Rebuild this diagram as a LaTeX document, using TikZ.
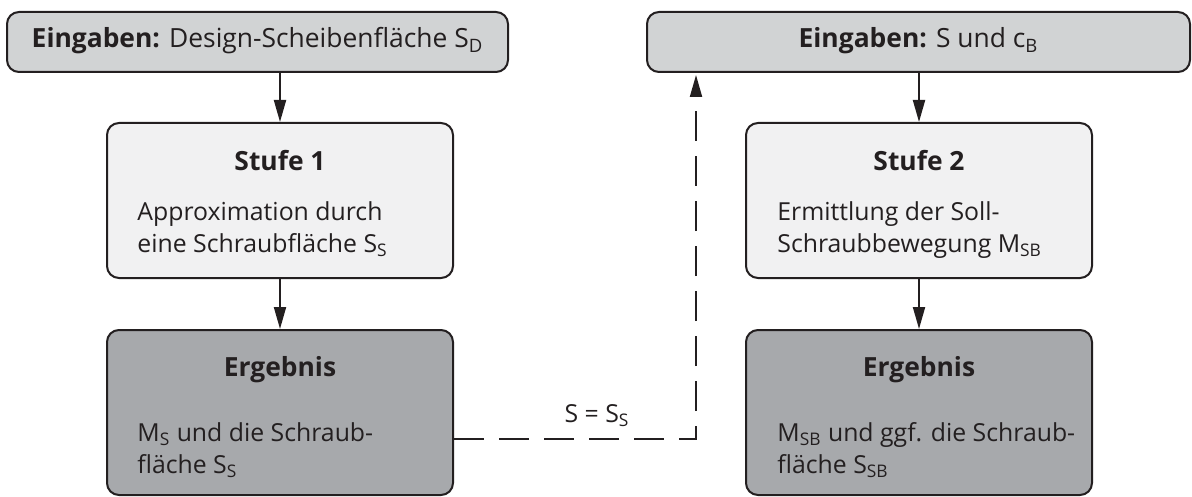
\documentclass[tikz,border=0pt]{standalone}
\usepackage{fontspec}
\setmainfont{Open Sans}
\usetikzlibrary{arrows.meta}

\definecolor{eingabe}{RGB}{209,211,212}
\definecolor{stufe}{RGB}{241,241,242}
\definecolor{ergebnis}{RGB}{167,169,172}
\definecolor{rand}{RGB}{35,31,32}
\newcommand{\idx}[1]{\textsubscript{#1}}

\begin{document}
\begin{tikzpicture}[x=0.5pt,y=-0.5pt]
\useasboundingbox (0,0) rectangle (1192,497);

\tikzstyle{box}=[draw=rand,line width=1pt,rounded corners=6pt,inner sep=0pt]
\tikzstyle{txt}=[inner sep=0pt,text=rand,font=\fontsize{12.4}{16}\selectfont]
\tikzstyle{kopf}=[txt,font=\fontsize{13.2}{16}\selectfont]
\tikzstyle{pfeil}=[draw=rand,line width=1pt,-{Triangle[length=11pt,width=6pt]}]

% Eingaben oben
\node[box,fill=eingabe,minimum width=250.5pt,minimum height=30pt] (ein1) at (257.5,42) {};
\node[box,fill=eingabe,minimum width=271.5pt,minimum height=30pt] (ein2) at (918.5,42) {};
\node[kopf,anchor=base] (ein1t) at (257.5,48) {\textbf{Eingaben:} Design-Scheibenfläche S\idx{D}};
\node[kopf,anchor=base] (ein2t) at (918.5,48) {\textbf{Eingaben:} S und c\idx{B}};

% Stufen und Ergebnisse
\foreach \n/\x in {1/280,2/919} {
  \node[box,fill=stufe,minimum width=173pt,minimum height=77.5pt] (st\n) at (\x,200.5) {};
  \node[box,fill=ergebnis,minimum width=173pt,minimum height=82.5pt] (erg\n) at (\x,412.5) {};
  \node[kopf,anchor=base] (titel-st\n) at (\x,170) {\textbf{Stufe \n}};
  \node[kopf,anchor=base] (titel-erg\n) at (\x,376) {\textbf{Ergebnis}};
}

% mehrzeilige Texte (base = letzte Zeile)
\node[txt,anchor=base west,align=left] (text-st1) at (137,252) {Approximation durch\\eine Schraubfläche S\idx{S}};
\node[txt,anchor=base west,align=left] (text-st2) at (777,252) {Ermittlung der Soll-\\Schraubbewegung M\idx{SB}};
\node[txt,anchor=base west,align=left] (text-erg1) at (137,473) {M\idx{S} und die Schraub-\\fläche S\idx{S}};
\node[txt,anchor=base west,align=left] (text-erg2) at (777,473) {M\idx{SB} und ggf. die Schraub-\\fläche S\idx{SB}};

% Pfeile
\foreach \n in {1,2} {
  \draw[pfeil] (ein\n.south -| st\n) -- (st\n.north);
  \draw[pfeil] (st\n) -- (erg\n);
}

% Rueckfuehrung S = S_S
\coordinate (knick) at (696,439);
\draw[pfeil,dash pattern=on 15pt off 7.5pt,shorten >=1pt] (erg1.east |- knick) -- (knick) -- (knick |- ein2.south);
\node[txt,anchor=base] (gleich) at (597,422) {S = S\idx{S}};

\end{tikzpicture}
\end{document}
